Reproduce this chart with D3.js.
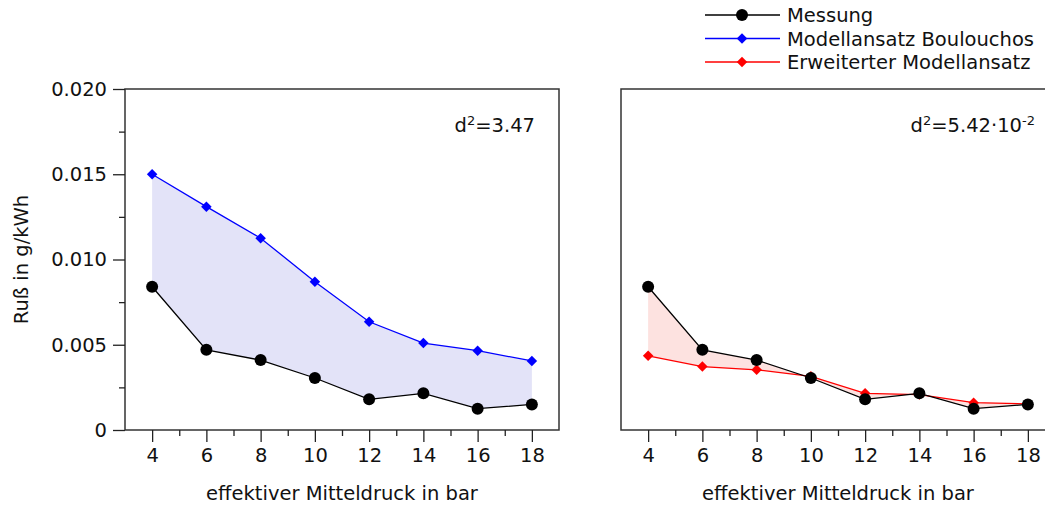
<!DOCTYPE html>
<html>
<head>
<meta charset="utf-8">
<script src="https://cdn.jsdelivr.net/npm/d3@7"></script>
<style>
  body { margin: 0; background: #fff; }
  svg { display: block; font-family: "DejaVu Sans", Verdana, sans-serif; }
  .axis text { font-family: "DejaVu Sans", Verdana, sans-serif; font-size: 19.5px; fill: #111; }
  .axis path { display: none; }
  .axis line { stroke: #222; stroke-width: 1.3; }
</style>
</head>
<body>
<svg id="chart" width="1045" height="506"></svg>
<script>
// effektiver Mitteldruck in bar
const pressure = [4, 6, 8, 10, 12, 14, 16, 18];
// Ruß in g/kWh
const messung = [0.0084, 0.0047, 0.0041, 0.00305, 0.0018, 0.00215, 0.00125, 0.0015];
const boulouchos = [0.0150, 0.0131, 0.01125, 0.0087, 0.00635, 0.0051, 0.00465, 0.00405];
const erweitert = [0.00435, 0.00372, 0.00353, 0.00315, 0.00215, 0.00208, 0.0016, 0.00153];

const yTicks = [0, 0.005, 0.010, 0.015, 0.020];
const yMinor = [0.0025, 0.0075, 0.0125, 0.0175];
const xTicks = [4, 6, 8, 10, 12, 14, 16, 18];
const xMinor = [5, 7, 9, 11, 13, 15, 17];

const legendNames = ['Messung', 'Modellansatz Boulouchos', 'Erweiterter Modellansatz'];
const legendColors = ['#000', '#0000ff', '#ff0000'];

const svg = d3.select("#chart");
const plotTop = 89, plotBottom = 430, plotW = 434;

const y = d3.scaleLinear().domain([0, 0.02]).range([plotBottom, plotTop]);

function drawPanel(left, model, color, fillColor, showY, label) {
    const x = d3.scaleLinear().domain([3, 19]).range([left, left + plotW]);
    const g = svg.append("g");

    // fill between measurement and model
    const area = d3.area()
        .x((d, i) => x(pressure[i]))
        .y0((d, i) => y(messung[i]))
        .y1(d => y(d));
    g.append("path")
        .datum(model)
        .attr("d", area)
        .attr("fill", fillColor)
        .attr("stroke", "none");

    // frame
    g.append("rect")
        .attr("x", left).attr("y", plotTop)
        .attr("width", plotW).attr("height", plotBottom - plotTop)
        .attr("fill", "none")
        .attr("stroke", "#333")
        .attr("stroke-width", 1.5);

    // x axis
    g.append("g")
        .attr("class", "axis")
        .attr("transform", "translate(0," + plotBottom + ")")
        .call(d3.axisBottom(x).tickValues(xTicks).tickSize(12).tickPadding(6));
    g.append("g")
        .attr("class", "axis")
        .attr("transform", "translate(0," + plotBottom + ")")
        .call(d3.axisBottom(x).tickValues(xMinor).tickSize(6).tickFormat(""));

    if (showY) {
        g.append("g")
            .attr("class", "axis")
            .attr("transform", "translate(" + left + ",0)")
            .call(d3.axisLeft(y).tickValues(yTicks).tickSize(12).tickPadding(6)
                .tickFormat(d => d === 0 ? "0" : d3.format(".3f")(d)));
        g.append("g")
            .attr("class", "axis")
            .attr("transform", "translate(" + left + ",0)")
            .call(d3.axisLeft(y).tickValues(yMinor).tickSize(6).tickFormat(""));
    }

    // lines
    const line = d3.line().x((d, i) => x(pressure[i])).y(d => y(d));
    g.append("path").datum(model).attr("d", line)
        .attr("fill", "none").attr("stroke", color).attr("stroke-width", 1.3);
    g.append("path").datum(messung).attr("d", line)
        .attr("fill", "none").attr("stroke", "#000").attr("stroke-width", 1.3);

    // markers
    g.selectAll(".dia").data(model).enter().append("path")
        .attr("d", d3.symbol(d3.symbolDiamond2, 70))
        .attr("transform", (d, i) => "translate(" + x(pressure[i]) + "," + y(d) + ")")
        .attr("fill", color);
    g.selectAll(".dot").data(messung).enter().append("circle")
        .attr("cx", (d, i) => x(pressure[i]))
        .attr("cy", d => y(d))
        .attr("r", 6)
        .attr("fill", "#000");

    // x title
    svg.append("text")
        .attr("x", left + plotW / 2)
        .attr("y", 500)
        .attr("text-anchor", "middle")
        .attr("font-size", 19.5)
        .attr("fill", "#111")
        .text("effektiver Mitteldruck in bar");

    // d² annotation
    const t = svg.append("text")
        .attr("x", label.x).attr("y", 132)
        .attr("text-anchor", "end")
        .attr("font-size", 19.5)
        .attr("fill", "#111");
    t.append("tspan").text("d");
    t.append("tspan").attr("dy", -7).attr("font-size", 13).text("2");
    t.append("tspan").attr("dy", 7).text(label.main);
    if (label.exp) {
        t.append("tspan").attr("dy", -7).attr("font-size", 13).text(label.exp);
    }
}

drawPanel(125, boulouchos, "#0000ff", "#e3e3f8", true, {x: 535, main: "=3.47"});
drawPanel(621, erweitert, "#ff0000", "#fde2e0", false, {x: 1035, main: "=5.42·10", exp: "-2"});

// y title
svg.append("text")
    .attr("transform", "translate(28," + (plotTop + plotBottom) / 2 + ") rotate(-90)")
    .attr("text-anchor", "middle")
    .attr("font-size", 19.5)
    .attr("fill", "#111")
    .text("Ruß in g/kWh");

// legend
const legend = svg.append("g").attr("transform", "translate(705,15)");
legendNames.forEach((name, i) => {
    const row = legend.append("g").attr("transform", "translate(0," + (i * 23.5) + ")");
    row.append("line").attr("x1", 0).attr("x2", 75).attr("y1", 0).attr("y2", 0)
        .attr("stroke", legendColors[i]).attr("stroke-width", 1.3);
    if (i === 0) {
        row.append("circle").attr("cx", 37).attr("cy", 0).attr("r", 6).attr("fill", "#000");
    } else {
        row.append("path").attr("d", d3.symbol(d3.symbolDiamond2, 70))
            .attr("transform", "translate(37,0)").attr("fill", legendColors[i]);
    }
    row.append("text").attr("x", 82).attr("y", 7)
        .attr("font-size", 19.5).attr("fill", "#111").text(name);
});
</script>
</body>
</html>
